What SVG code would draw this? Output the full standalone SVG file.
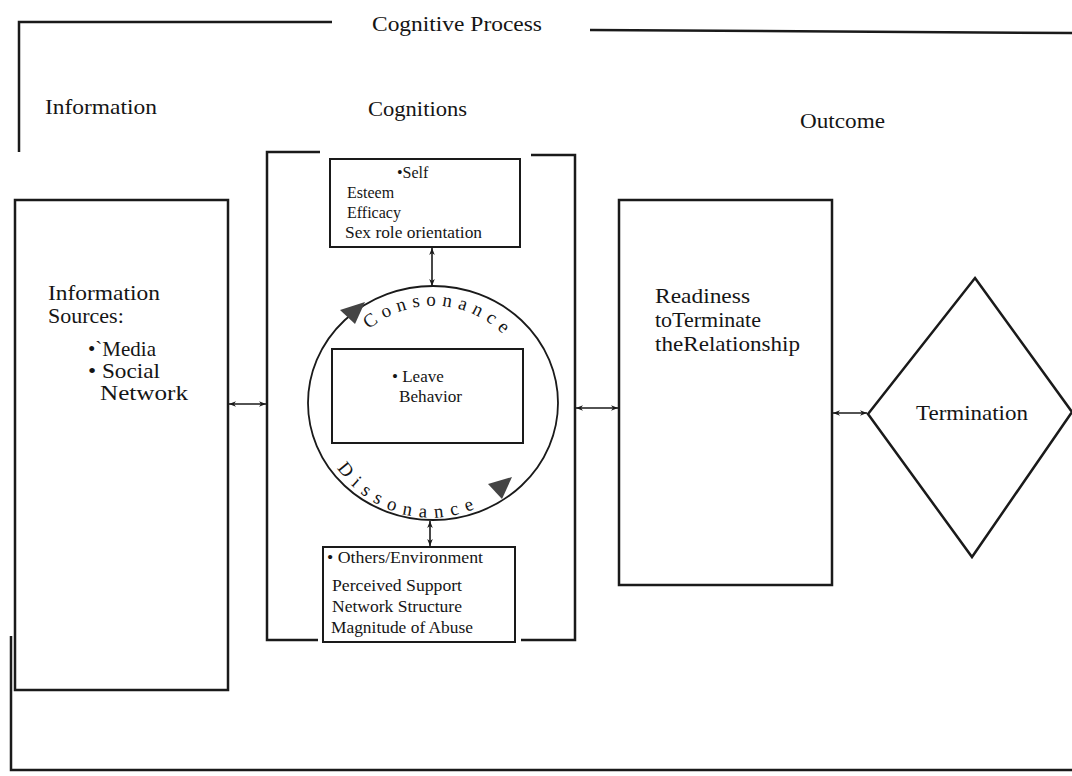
<svg xmlns="http://www.w3.org/2000/svg" width="1072" height="776" viewBox="0 0 1072 776">
<style>
.ln{stroke:#1a1a1a;fill:none;stroke-width:2.5}
.thin{stroke:#1a1a1a;fill:none;stroke-width:1.8}
.box{fill:#fff;stroke:#1a1a1a;stroke-width:2.5}
.sbox{fill:#fff;stroke:#1a1a1a;stroke-width:2}
.t{font-family:"Liberation Serif","Times New Roman",serif;fill:#151515}
.h{font-size:21px}
.big{font-size:22px}
.lb{font-size:21px}
.sm{font-size:16px}
.md{font-size:17px}
.cy{font-size:19px}
.arr{stroke:#1a1a1a;stroke-width:1.6;fill:none;marker-start:url(#ah);marker-end:url(#ah)}
.tri{fill:#444;stroke:none}
</style>
<defs>
<marker id="ah" viewBox="0 0 10 10" refX="10" refY="5" markerWidth="9" markerHeight="7" orient="auto-start-reverse" markerUnits="userSpaceOnUse">
<path d="M0,1 L10,5 L0,9 L3,5 z" fill="#1a1a1a"/>
</marker>
<path id="consPath" d="M 368.9 329.6 A 99 99 0 0 1 514.1 347.4"/>
<path id="dissPath" d="M 337.2 468.0 A 113 113 0 0 0 497.8 495.6"/>
</defs>
<rect width="1072" height="776" fill="#fff"/>

<g id="frame">
<path class="ln" d="M19 152 L19 22 L332 22"/>
<path class="ln" d="M590 30 L1072 33"/>
<path class="ln" d="M11 636 L11 770 L1072 770"/>
<text class="t h" x="372" y="31" textLength="170" lengthAdjust="spacingAndGlyphs">Cognitive Process</text>
</g>

<g id="headers">
<text class="t h" x="45" y="114" textLength="112" lengthAdjust="spacingAndGlyphs">Information</text>
<text class="t h" x="368" y="116" textLength="99" lengthAdjust="spacingAndGlyphs">Cognitions</text>
<text class="t h" x="800" y="128" textLength="85" lengthAdjust="spacingAndGlyphs">Outcome</text>
</g>

<g id="information-sources">
<rect class="box" x="15" y="200" width="213" height="490"/>
<text class="t big" x="48" y="300" textLength="112" lengthAdjust="spacingAndGlyphs">Information</text>
<text class="t big" x="48" y="323">Sources:</text>
<text class="t lb" x="88" y="356">•`Media</text>
<text class="t lb" x="88" y="378" textLength="72" lengthAdjust="spacingAndGlyphs">• Social</text>
<text class="t lb" x="100" y="400" textLength="88" lengthAdjust="spacingAndGlyphs">Network</text>
</g>

<g id="cognitions-bracket">
<path class="ln" d="M320 152 L267 152 L267 640 L318 640"/>
<path class="ln" d="M531 155 L575 155 L575 640 L521 640"/>
</g>

<g id="self">
<rect class="sbox" x="330" y="159" width="190" height="88"/>
<text class="t sm" x="397" y="178">•Self</text>
<text class="t sm" x="347" y="198">Esteem</text>
<text class="t sm" x="347" y="218">Efficacy</text>
<text class="t sm" x="345" y="238" textLength="137" lengthAdjust="spacingAndGlyphs">Sex role orientation</text>
</g>

<g id="cycle">
<ellipse class="thin" cx="433" cy="403" rx="125" ry="117"/>
<text class="t cy" letter-spacing="6"><textPath href="#consPath">Consonance</textPath></text>
<text class="t cy" letter-spacing="7.5"><textPath href="#dissPath">Dissonance</textPath></text>
<path class="tri" d="M365 302 L355 324 L340 310 Z"/>
<path class="tri" d="M512 477 L502 499 L488 484 Z"/>
</g>

<g id="leave-behavior">
<rect class="sbox" x="332" y="349" width="191" height="94"/>
<text class="t md" x="392" y="382">• Leave</text>
<text class="t md" x="399" y="402" textLength="63" lengthAdjust="spacingAndGlyphs">Behavior</text>
</g>

<g id="others-environment">
<rect class="sbox" x="323" y="547" width="192" height="95"/>
<text class="t sm" x="327" y="563" textLength="156" lengthAdjust="spacingAndGlyphs">• Others/Environment</text>
<text class="t sm" x="332" y="591" textLength="130" lengthAdjust="spacingAndGlyphs">Perceived Support</text>
<text class="t sm" x="332" y="612" textLength="130" lengthAdjust="spacingAndGlyphs">Network Structure</text>
<text class="t sm" x="331" y="633" textLength="142" lengthAdjust="spacingAndGlyphs">Magnitude of Abuse</text>
</g>

<g id="readiness">
<rect class="box" x="619" y="200" width="213" height="385"/>
<text class="t big" x="655" y="303" textLength="95" lengthAdjust="spacingAndGlyphs">Readiness</text>
<text class="t big" x="655" y="327">toTerminate</text>
<text class="t big" x="655" y="351" textLength="145" lengthAdjust="spacingAndGlyphs">theRelationship</text>
</g>

<g id="termination">
<path class="ln" d="M975 278 L1072 412 L972 557 L868 414 Z"/>
<text class="t big" x="916" y="420" textLength="112" lengthAdjust="spacingAndGlyphs">Termination</text>
</g>

<g id="connectors">
<line class="arr" x1="229" y1="404" x2="266" y2="404"/>
<line class="arr" x1="576" y1="408" x2="618" y2="408"/>
<line class="arr" x1="833" y1="413" x2="867" y2="413"/>
<line class="arr" x1="432" y1="248" x2="432" y2="286"/>
<line class="arr" x1="430" y1="521" x2="430" y2="546"/>
</g>
</svg>
